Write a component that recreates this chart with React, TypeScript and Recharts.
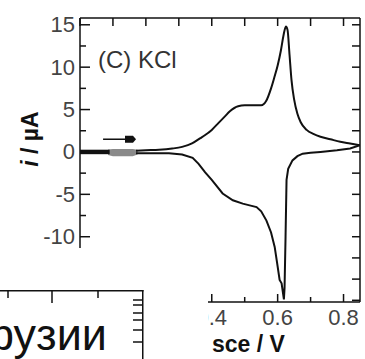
import { ComposedChart, Line, Area, XAxis, YAxis, ReferenceLine } from "recharts";

// forward (anodic) scan, E / V vs sce and i / µA
const fwdE = [0.17, 0.2, 0.24, 0.28, 0.31, 0.34, 0.364, 0.38, 0.4, 0.42, 0.44, 0.455, 0.48, 0.5, 0.52, 0.55, 0.565, 0.58, 0.59, 0.6, 0.61, 0.618, 0.625, 0.63, 0.636, 0.642, 0.65, 0.66, 0.67, 0.688, 0.71, 0.73, 0.76, 0.79, 0.82, 0.85];
const fwdI = [0.15, 0.2, 0.25, 0.4, 0.6, 1.0, 1.6, 2.0, 2.6, 3.4, 4.2, 4.8, 5.4, 5.5, 5.5, 5.5, 6.0, 7.5, 8.8, 10.2, 12.0, 13.8, 14.8, 14.4, 11.5, 8.5, 6.2, 4.5, 3.5, 2.6, 2.1, 1.8, 1.5, 1.2, 1.0, 0.8];

// reverse (cathodic) scan
const revE = [0.85, 0.82, 0.78, 0.73, 0.7, 0.676, 0.66, 0.645, 0.632, 0.627, 0.624, 0.621, 0.619, 0.612, 0.606, 0.598, 0.591, 0.58, 0.566, 0.55, 0.536, 0.515, 0.494, 0.464, 0.433, 0.4, 0.38, 0.36, 0.342, 0.31, 0.27, 0.2, 0.17];
const revI = [0.8, 0.4, 0.2, 0.0, -0.1, -0.2, -0.5, -1.0, -2.0, -3.3, -10, -16, -17.4, -15.5, -15.1, -13, -11.2, -9.5, -8.1, -7.0, -6.5, -6.3, -6.1, -5.7, -4.9, -3.3, -2.4, -1.4, -0.7, -0.3, -0.15, -0.15, -0.15];

// start of the scan near 0 V
const startE = [0, 0.09];
const startI = [0, 0];
const bandE = [0.085, 0.1, 0.16, 0.175];
const bandLo = [-0.35, -0.5, -0.5, -0.3];
const bandHi = [0.3, 0.35, 0.35, 0.25];

// scan direction arrow
const arrowE = [0.07, 0.17];
const arrowI = 1.5;

const xTicks = [0, 0.1, 0.2, 0.3, 0.4, 0.5, 0.6, 0.7, 0.8];
const yTicks = [-17.5, -15, -12.5, -10, -7.5, -5, -2.5, 0, 2.5, 5, 7.5, 10, 12.5, 15];

const fwd = fwdE.map((e, k) => ({ e, i: fwdI[k] }));
const rev = revE.map((e, k) => ({ e, i: revI[k] }));
const start = startE.map((e, k) => ({ e, i: startI[k] }));
const band = bandE.map((e, k) => ({ e, r: [bandLo[k], bandHi[k]] }));

const FONT = "'Liberation Sans', Arial, sans-serif";
const INK = "#111";

const LeftTick = (p: any) => {
  const v = p.payload.value;
  const major = v % 5 === 0;
  return (
    <g>
      <line x1={p.x} x2={p.x + (major ? 10 : 6)} y1={p.y} y2={p.y} stroke={INK} strokeWidth={1.5} />
      {major && v >= -10 && (
        <text x={p.x - 5} y={p.y} textAnchor="end" dominantBaseline="central" fontSize={22} fill="#444" fontFamily={FONT}>
          {v}
        </text>
      )}
    </g>
  );
};

const RightTick = (p: any) => (
  <line x1={p.x} x2={p.x - 8} y1={p.y} y2={p.y} stroke={INK} strokeWidth={1.5} />
);

const TopTick = (p: any) => (
  <line x1={p.x} x2={p.x} y1={p.y} y2={p.y + 8} stroke={INK} strokeWidth={1.5} />
);

// labels below 0.4 sit under the pasted box, so they are not drawn
const BottomTick = (p: any) => {
  const v = p.payload.value;
  const major = Math.round(v * 10) % 2 === 0;
  return (
    <g>
      <line x1={p.x} x2={p.x} y1={p.y} y2={p.y - (major ? 8 : 5)} stroke={INK} strokeWidth={1.5} />
      {major && v >= 0.4 && (
        <text x={p.x} y={p.y + 15} textAnchor="middle" dominantBaseline="central" fontSize={22} fill="#444" fontFamily={FONT}>
          {v.toFixed(1)}
        </text>
      )}
    </g>
  );
};

const Arrow = (p: any) => (
  <g>
    <line x1={p.x1} y1={p.y1} x2={p.x2 - 6} y2={p.y2} stroke={INK} strokeWidth={1.5} />
    <polygon points={`${p.x2 - 11},${p.y1 - 3.5} ${p.x2 - 3},${p.y1 - 3.5} ${p.x2},${p.y1} ${p.x2 - 3},${p.y1 + 3.5} ${p.x2 - 11},${p.y1 + 3.5}`} fill={INK} />
  </g>
);

const axisLine = { stroke: INK, strokeWidth: 1.5 };

export default function App() {
  return (
    <div style={{ position: "absolute", left: 0, top: 0, width: 365, height: 359, background: "#fff", fontFamily: FONT }}>
      <ComposedChart width={365} height={359} margin={{ top: 0, right: 0, bottom: 0, left: 0 }}>
        <XAxis xAxisId="b" dataKey="e" type="number" domain={[0, 0.85]} ticks={xTicks} interval={0}
          height={57} tickSize={0} tickMargin={0} tickLine={false} axisLine={axisLine} tick={<BottomTick />} allowDataOverflow />
        <XAxis xAxisId="t" orientation="top" dataKey="e" type="number" domain={[0, 0.85]} ticks={xTicks} interval={0}
          height={18} tickSize={0} tickMargin={0} tickLine={false} axisLine={axisLine} tick={<TopTick />} allowDataOverflow />
        <YAxis yAxisId="l" type="number" domain={[-17.7, 15.8]} ticks={yTicks} interval={0}
          width={80} tickSize={0} tickMargin={0} tickLine={false} axisLine={axisLine} tick={<LeftTick />} allowDataOverflow />
        <YAxis yAxisId="r" orientation="right" type="number" domain={[-17.7, 15.8]} ticks={yTicks} interval={0}
          width={5} tickSize={0} tickMargin={0} tickLine={false} axisLine={axisLine} tick={<RightTick />} allowDataOverflow />
        <Area xAxisId="b" yAxisId="l" data={band} dataKey="r" type="linear" stroke="none" fill="#8a8a8a" fillOpacity={1} isAnimationActive={false} />
        <Line xAxisId="b" yAxisId="l" data={start} dataKey="i" stroke={INK} strokeWidth={4.5} dot={false} isAnimationActive={false} />
        <Line xAxisId="b" yAxisId="l" data={fwd} dataKey="i" type="monotone" stroke={INK} strokeWidth={2} dot={false} isAnimationActive={false} />
        <Line xAxisId="b" yAxisId="l" data={rev} dataKey="i" type="linear" stroke={INK} strokeWidth={2} dot={false} isAnimationActive={false} />
        <ReferenceLine xAxisId="b" yAxisId="l" segment={[{ x: arrowE[0], y: arrowI }, { x: arrowE[1], y: arrowI }]} shape={Arrow} />
      </ComposedChart>

      <svg width={365} height={359} style={{ position: "absolute", left: 0, top: 0, pointerEvents: "none" }}>
        <text x={98} y={59} dominantBaseline="central" fontSize={24} fill="#333" fontFamily={FONT}>(C) KCl</text>
        <text transform="rotate(-90 30 139)" x={30} y={139} textAnchor="middle" dominantBaseline="central" fontSize={23} fontWeight="bold" fill={INK} fontFamily={FONT}>
          <tspan fontStyle="italic">i</tspan> / µA
        </text>
        <text x={212} y={344} dominantBaseline="central" fontSize={23} fontWeight="bold" fill={INK} fontFamily={FONT}>sce / V</text>
      </svg>

      {/* white cut-out at lower left of the figure */}
      <div style={{ position: "absolute", left: 0, top: 248, width: 208, height: 111, background: "#fff" }} />

      <svg width={145} height={69} style={{ position: "absolute", left: 0, top: 290 }}>
        <rect x={0} y={0} width={143} height={69} fill="#fff" />
        <line x1={0} x2={143.5} y1={0.75} y2={0.75} stroke={INK} strokeWidth={1.5} />
        <line x1={142.75} x2={142.75} y1={0} y2={69} stroke={INK} strokeWidth={1.5} />
        {[8, 98].map((x) => <line key={x} x1={x} x2={x} y1={0} y2={8} stroke={INK} strokeWidth={1.5} />)}
        <line x1={52} x2={52} y1={0} y2={13} stroke={INK} strokeWidth={1.5} />
        {[10, 15, 23, 30, 40, 52].map((y) => <line key={y} x1={133} x2={143} y1={y} y2={y} stroke={INK} strokeWidth={1.5} />)}
        <text x={-23} y={60} fontSize={45} fill={INK} fontFamily={FONT}>фузии</text>
      </svg>
    </div>
  );
}
